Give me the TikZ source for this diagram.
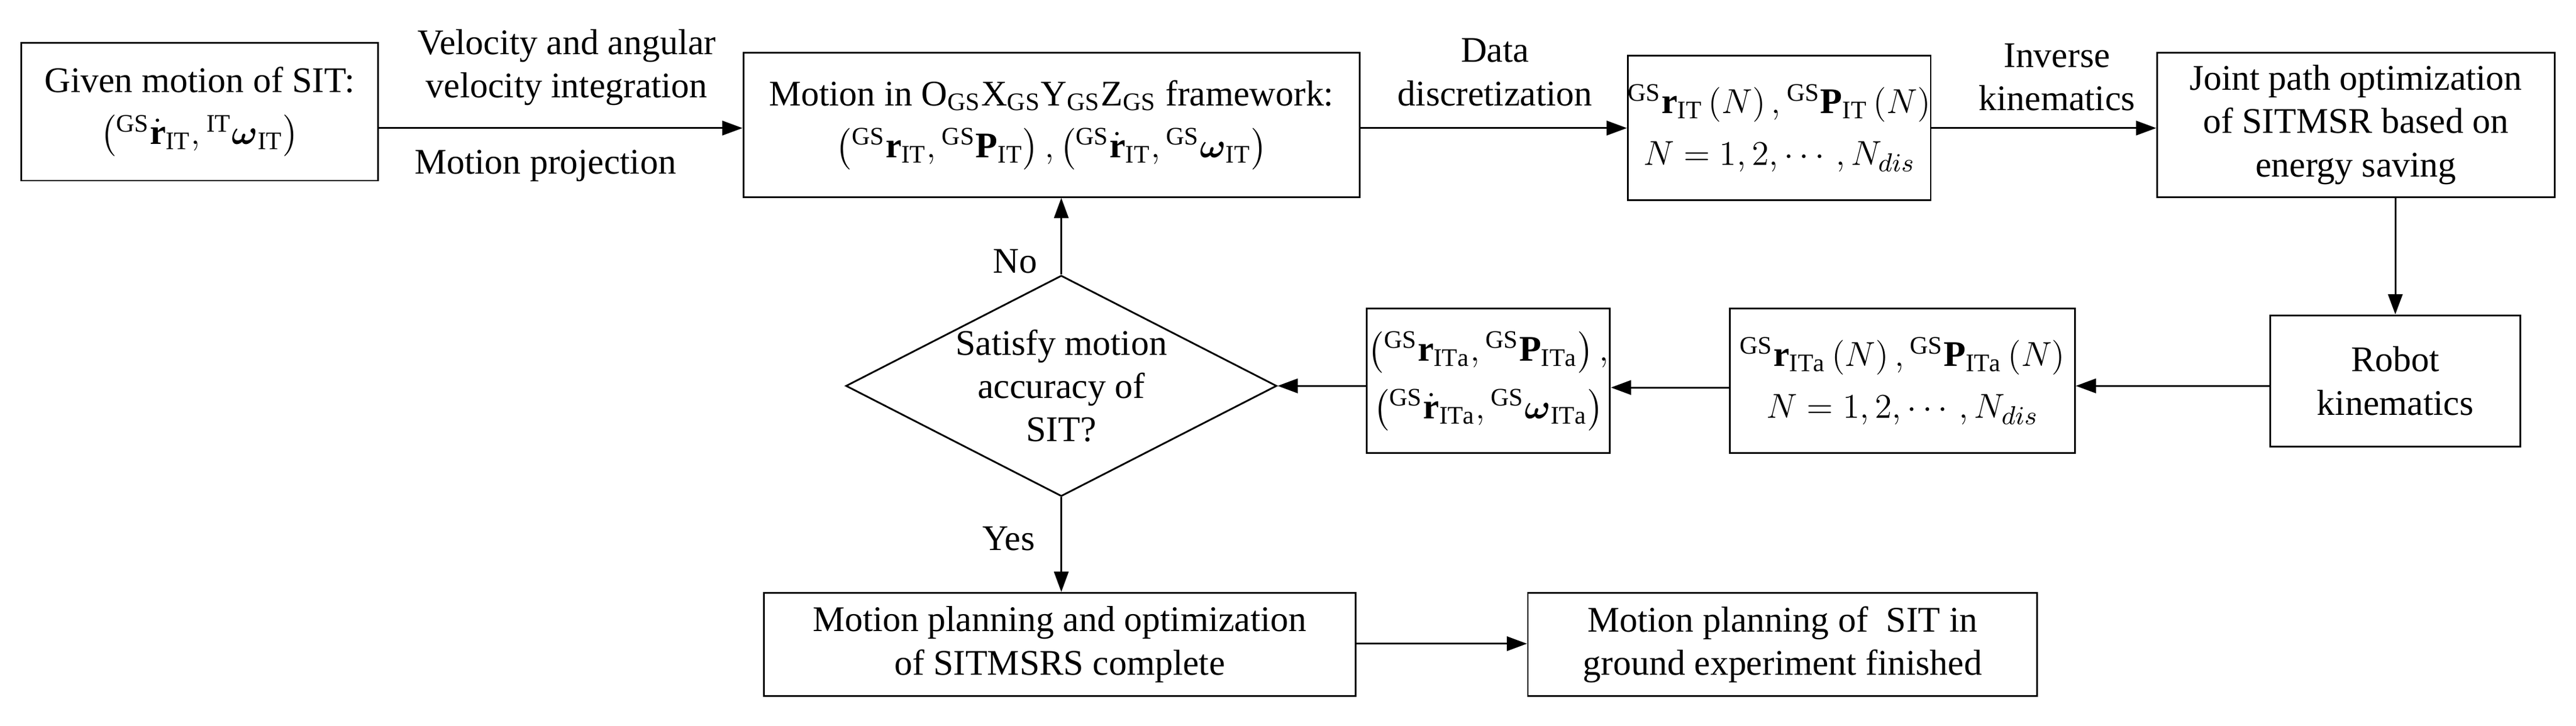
\documentclass[tikz,border=0pt]{standalone}
\usepackage{amsmath}
\usepackage{fontspec}
\setmainfont{Liberation Serif}
\usetikzlibrary{arrows.meta,shapes.geometric}
\newcommand{\G}[1]{{}^{\mathrm{GS}}#1}
\begin{document}
\begin{tikzpicture}[x=0.02cm,y=-0.02cm,
  bx/.style={draw,line width=0.6pt,align=center,inner sep=0pt,font=\fontsize{12.5}{15}\selectfont},
  lb/.style={align=center,font=\fontsize{12.5}{15}\selectfont},
  ar/.style={line width=0.6pt,-{Triangle[length=7pt,width=5pt]}}]
\useasboundingbox (0,0) rectangle (1568,442);
\node[bx,minimum width=217*0.02cm,minimum height=84*0.02cm] (b1) at (121.5,68) {Given motion of SIT:\\[3pt] $\left({}^{\mathrm{GS}}\dot{\mathbf r}_{\mathrm{IT}},{}^{\mathrm{IT}}\boldsymbol\omega_{\mathrm{IT}}\right)$};
\node[bx,minimum width=375*0.02cm,minimum height=88*0.02cm] (b2) at (640,76) {Motion in O$_{\mathrm{GS}}$X$_{\mathrm{GS}}$Y$_{\mathrm{GS}}$Z$_{\mathrm{GS}}$ framework:\\[3pt] $\left(\G{\mathbf r}_{\mathrm{IT}},\G{\mathbf P}_{\mathrm{IT}}\right),\left(\G{\dot{\mathbf r}}_{\mathrm{IT}},\G{\boldsymbol\omega}_{\mathrm{IT}}\right)$};
\node[bx,minimum width=172*0.02cm,minimum height=88*0.02cm] (b3) at (1083,78) {$\G{\mathbf r}_{\mathrm{IT}}\left(N\right),\G{\mathbf P}_{\mathrm{IT}}\left(N\right)$\\[3pt] $N=1,2,\cdots,N_{dis}$};
\node[bx,minimum width=242*0.02cm,minimum height=88*0.02cm] (b4) at (1434,76) {Joint path optimization\\ of SITMSR based on\\ energy saving};
\node[bx,minimum width=152*0.02cm,minimum height=80*0.02cm] (b5) at (1458,232) {Robot\\ kinematics};
\node[bx,minimum width=210*0.02cm,minimum height=88*0.02cm] (b6) at (1158,232) {$\G{\mathbf r}_{\mathrm{ITa}}\left(N\right),\G{\mathbf P}_{\mathrm{ITa}}\left(N\right)$\\[3pt] $N=1,2,\cdots,N_{dis}$};
\node[bx,minimum width=148*0.02cm,minimum height=88*0.02cm] (b7) at (906,232) {$\left(\G{\mathbf r}_{\mathrm{ITa}},\G{\mathbf P}_{\mathrm{ITa}}\right),$\\[5pt] $\left(\G{\dot{\mathbf r}}_{\mathrm{ITa}},\G{\boldsymbol\omega}_{\mathrm{ITa}}\right)$};
\node[draw,line width=0.6pt,diamond,aspect=1.95,inner sep=0pt,minimum width=248*0.02cm,minimum height=126*0.02cm,align=center,font=\fontsize{12.5}{15}\selectfont] (d) at (646,235) {Satisfy motion\\ accuracy of\\ SIT?};
\node[bx,minimum width=360*0.02cm,minimum height=63*0.02cm] (b8) at (645,392.5) {Motion planning and optimization\\ of SITMSRS complete};
\node[bx,minimum width=310*0.02cm,minimum height=63*0.02cm] (b9) at (1085,392.5) {Motion planning of \ SIT in\\ ground experiment finished};
\draw[ar] (b1.east|-0,78) -- (b2.west|-0,78);
\node[lb] at (345,41) {Velocity and angular\\ velocity integration};
\node[lb] at (332,101) {Motion projection};
\draw[ar] (b2.east|-0,78) -- (b3.west|-0,78);
\node[lb] at (910,44) {Data\\ discretization};
\draw[ar] (b3.east|-0,78) -- (b4.west|-0,78);
\node[lb] at (1252,47) {Inverse\\ kinematics};
\draw[ar] (b4.south-|b5) -- (b5.north);
\draw[ar] (b5.west|-0,235) -- (b6.east|-0,235);
\draw[ar] (b6.west|-0,236) -- (b7.east|-0,236);
\draw[ar] (b7.west|-0,235) -- (d.east);
\draw[ar] (d.north) -- (b2.south-|d.north);
\node[lb] at (618,159) {No};
\draw[ar] (d.south) -- (b8.north-|d.south);
\node[lb] at (614,328) {Yes};
\draw[ar] (b8.east|-0,392) -- (b9.west|-0,392);
\end{tikzpicture}
\end{document}
